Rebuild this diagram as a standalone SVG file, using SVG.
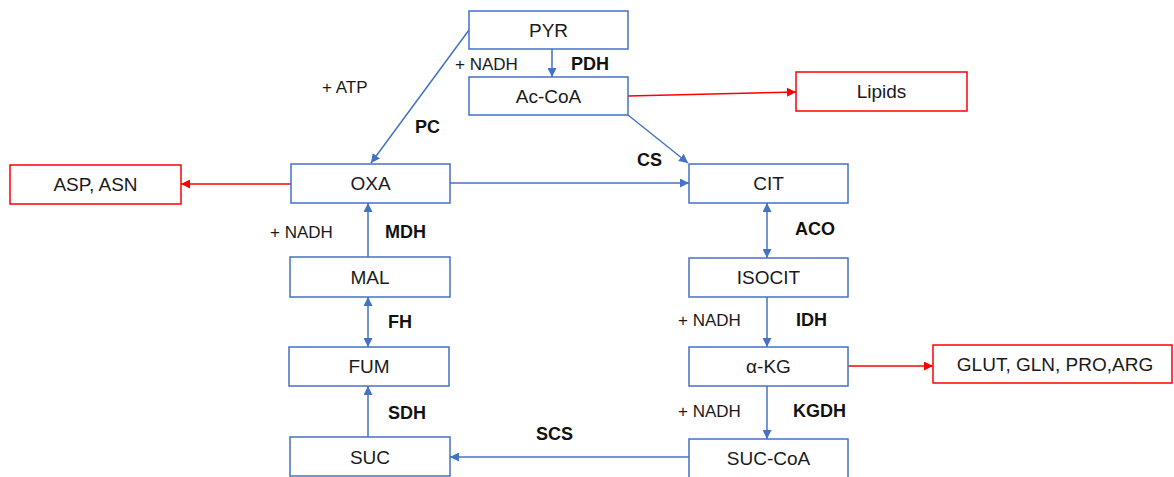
<svg xmlns="http://www.w3.org/2000/svg" width="1174" height="477" viewBox="0 0 1174 477">
<style>
.box{fill:#fff;stroke:#4472C4;stroke-width:1.5}
.rbox{fill:#fff;stroke:#FF0000;stroke-width:1.5}
.lbl{font-family:"Liberation Sans",Arial,sans-serif;font-size:19px;fill:#1a1a1a;text-anchor:middle;dominant-baseline:central}
.co{font-family:"Liberation Sans",Arial,sans-serif;font-size:17px;fill:#1a1a1a;dominant-baseline:central}
.enz{font-family:"Liberation Sans",Arial,sans-serif;font-size:18px;font-weight:bold;fill:#111;dominant-baseline:central}
.b{stroke:#4472C4;stroke-width:1.5;fill:none}
.r{stroke:#FF0000;stroke-width:1.5;fill:none}
</style>
<defs>
<marker id="ab" viewBox="0 0 10 10" refX="10" refY="5" markerWidth="9" markerHeight="9" markerUnits="userSpaceOnUse" orient="auto-start-reverse"><path d="M0,0 L10,5 L0,10 z" fill="#4472C4"/></marker>
<marker id="ar" viewBox="0 0 10 10" refX="10" refY="5" markerWidth="9" markerHeight="9" markerUnits="userSpaceOnUse" orient="auto"><path d="M0,0 L10,5 L0,10 z" fill="#FF0000"/></marker>
</defs>
<g id="connectors">
<line class="b" x1="552" y1="49" x2="552" y2="77" marker-end="url(#ab)"/>
<line class="b" x1="469" y1="30" x2="371" y2="163" marker-end="url(#ab)"/>
<line class="r" x1="628" y1="96" x2="796" y2="92" marker-end="url(#ar)"/>
<line class="b" x1="628" y1="115" x2="688" y2="163" marker-end="url(#ab)"/>
<line class="b" x1="450" y1="183" x2="689" y2="183" marker-end="url(#ab)"/>
<line class="r" x1="291" y1="184" x2="181" y2="184" marker-end="url(#ar)"/>
<line class="b" x1="368" y1="257" x2="368" y2="203" marker-end="url(#ab)"/>
<line class="b" x1="368" y1="297" x2="368" y2="347" marker-start="url(#ab)" marker-end="url(#ab)"/>
<line class="b" x1="368" y1="437" x2="368" y2="386" marker-end="url(#ab)"/>
<line class="b" x1="689" y1="457" x2="450" y2="457" marker-end="url(#ab)"/>
<line class="b" x1="767" y1="203" x2="767" y2="258" marker-start="url(#ab)" marker-end="url(#ab)"/>
<line class="b" x1="767" y1="297" x2="767" y2="347" marker-end="url(#ab)"/>
<line class="b" x1="767" y1="386" x2="767" y2="439" marker-end="url(#ab)"/>
<line class="r" x1="848" y1="366" x2="933" y2="366" marker-end="url(#ar)"/>
</g>
<g id="PYR"><rect class="box" x="469" y="11" width="159" height="38"/><text class="lbl" x="548.5" y="30">PYR</text></g>
<g id="AcCoA"><rect class="box" x="469" y="77" width="159" height="38"/><text class="lbl" x="548.5" y="96">Ac-CoA</text></g>
<g id="Lipids"><rect class="rbox" x="796" y="72" width="171" height="39"/><text class="lbl" x="881.5" y="91.5">Lipids</text></g>
<g id="OXA"><rect class="box" x="291" y="164" width="159" height="39"/><text class="lbl" x="370.5" y="183.5">OXA</text></g>
<g id="ASP"><rect class="rbox" x="10" y="165" width="171" height="39"/><text class="lbl" x="95.5" y="184.5">ASP, ASN</text></g>
<g id="CIT"><rect class="box" x="689" y="164" width="159" height="39"/><text class="lbl" x="768.5" y="183.5">CIT</text></g>
<g id="ISOCIT"><rect class="box" x="689" y="258" width="159" height="39"/><text class="lbl" x="768.5" y="277.5">ISOCIT</text></g>
<g id="MAL"><rect class="box" x="290" y="257" width="160" height="40"/><text class="lbl" x="370" y="277">MAL</text></g>
<g id="FUM"><rect class="box" x="289" y="347" width="160" height="39"/><text class="lbl" x="369" y="366.5">FUM</text></g>
<g id="aKG"><rect class="box" x="689" y="347" width="159" height="39"/><text class="lbl" x="768.5" y="366.5">α-KG</text></g>
<g id="GLUT"><rect class="rbox" x="933" y="345" width="239" height="38"/><text class="lbl" x="1055" y="364">GLUT, GLN, PRO,ARG</text></g>
<g id="SUC"><rect class="box" x="290" y="437" width="160" height="39"/><text class="lbl" x="370" y="457">SUC</text></g>
<g id="SUCCoA"><rect class="box" x="689" y="439" width="159" height="39"/><text class="lbl" x="768.5" y="458">SUC-CoA</text></g>
<g id="labels">
<text class="co" x="455" y="64">+ NADH</text>
<text class="enz" x="571" y="64">PDH</text>
<text class="co" x="322" y="87">+ ATP</text>
<text class="enz" x="415" y="127">PC</text>
<text class="enz" x="637" y="160">CS</text>
<text class="co" x="270" y="232">+ NADH</text>
<text class="enz" x="385" y="232">MDH</text>
<text class="enz" x="795" y="229">ACO</text>
<text class="enz" x="388" y="322">FH</text>
<text class="co" x="678" y="320">+ NADH</text>
<text class="enz" x="796" y="320">IDH</text>
<text class="enz" x="388" y="413">SDH</text>
<text class="co" x="678" y="411">+ NADH</text>
<text class="enz" x="793" y="411">KGDH</text>
<text class="enz" x="536" y="434">SCS</text>
</g>
</svg>
